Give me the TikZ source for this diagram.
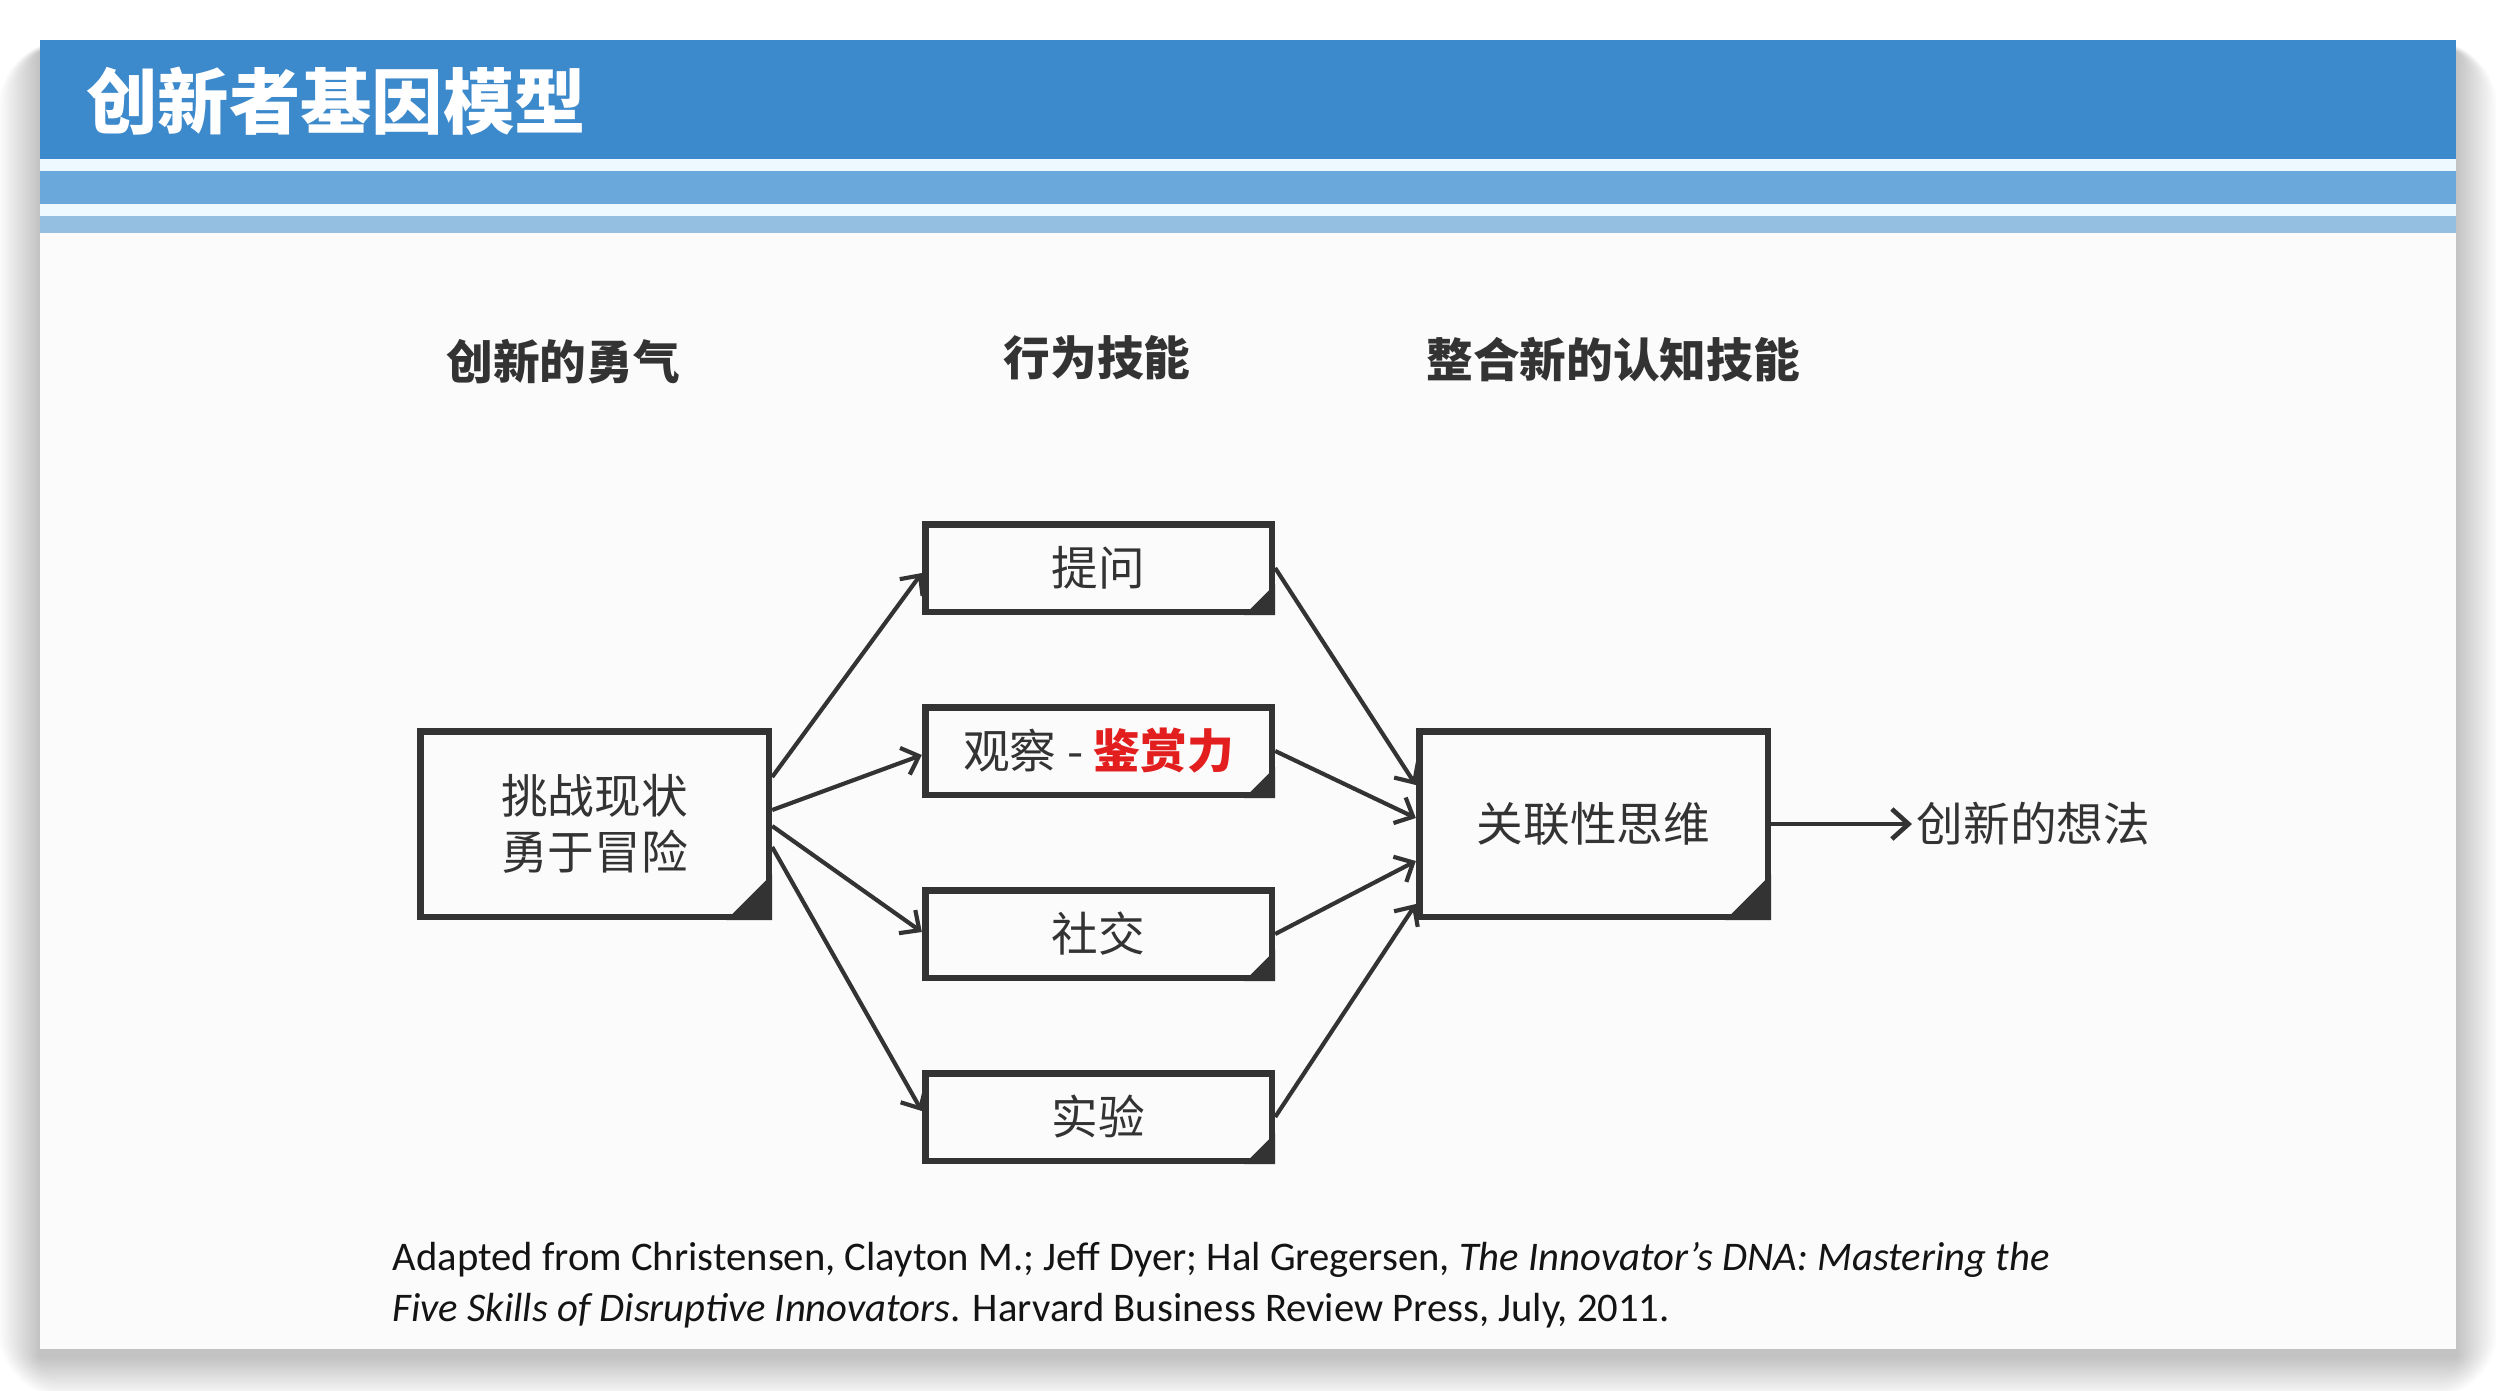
\documentclass[tikz,border=0pt]{standalone}
\usepackage{fontspec}
\setmainfont{Carlito}
\newfontfamily\cjk{Noto Sans CJK SC}
\usetikzlibrary{arrows.meta,calc}
\definecolor{ink}{RGB}{51,51,51}
\definecolor{hdr}{RGB}{60,137,204}
\definecolor{band}{RGB}{106,167,218}
\definecolor{bandlight}{RGB}{148,191,224}
\definecolor{gap}{RGB}{238,248,255}
\definecolor{paper}{RGB}{251,251,251}
\definecolor{accent}{RGB}{226,30,30}
\begin{document}
\begin{tikzpicture}[x=0.3pt,y=-0.3pt,
  box/.style={draw=ink,line width=2pt,fill=paper,text=ink,inner sep=0pt,
    font=\cjk\fontsize{14}{16.8}\selectfont},
  small/.style={box,minimum width=104pt,minimum height=26.3pt},
  big/.style={box,minimum width=104.6pt,minimum height=55.7pt,align=center},
  link/.style={draw=ink,line width=1.25pt,
    -{Straight Barb[length=4.5pt,width=8.5pt,line width=1.25pt]}},
  outlink/.style={draw=ink,line width=1.4pt,
    -{Straight Barb[length=5pt,width=9pt,line width=1.4pt]}},
  heading/.style={font=\cjk\bfseries\fontsize{14}{16}\selectfont,text=ink,inner sep=0pt},
  label/.style={font=\cjk\fontsize{14}{16}\selectfont,text=ink,inner sep=0pt},
  cite/.style={font=\fontsize{12.2}{14}\selectfont,text=black!92,inner sep=0pt,anchor=base west}]

% page and soft shadow behind the slide
\useasboundingbox (0,0) rectangle (2496,1390);
\fill[white] (0,0) rectangle (2496,1390);
\foreach \i in {1,...,30}
  \fill[black,opacity=0.006,rounded corners=\i*0.7pt]
    (40-\i*1.4,40-\i*0.4+12) rectangle (2456+\i*1.4,1349+\i*1.4+8);

% slide body and header bands
\fill[paper] (40,40) rectangle (2456,1349);
\fill[hdr] (40,40) rectangle (2456,159);
\fill[gap] (40,159) rectangle (2456,171);
\fill[band] (40,171) rectangle (2456,204);
\fill[gap] (40,204) rectangle (2456,216);
\fill[bandlight] (40,216) rectangle (2456,233);

\node[anchor=west,text=white,inner sep=0pt,
  font=\cjk\bfseries\fontsize{21.4}{24}\selectfont] (title) at (86,101) {创新者基因模型};

% column headings
\node[heading] (h1) at (563,362) {创新的勇气};
\node[heading] (h2) at (1097,358) {行为技能};
\node[heading] (h3) at (1613,360) {整合新的认知技能};

% boxes
\node[big] (lb) at (594.5,824) {挑战现状\\勇于冒险};
\node[small] (q) at (1098.5,568) {提问};
\node[small] (o) at (1098.5,751) {观察 - \textcolor{accent}{\bfseries 鉴赏力}};
\node[small] (s) at (1098.5,934) {社交};
\node[small] (e) at (1098.5,1117) {实验};
\node[big] (rb) at (1593.5,824) {关联性思维};
\node[label,anchor=west] (idea) at (1916,824) {创新的想法};

% dark corner marks
\foreach \n/\d in {lb/46,rb/46,q/31,o/31,s/31,e/31}
  \fill[ink] (\n.south east) -- ($(\n.south east)+(0,-\d)$) -- ($(\n.south east)+(-\d,0)$) -- cycle;

% connectors
\draw[link] ($(lb.east)+(0,-47)$) -- ($(q.west)+(0,5)$);
\draw[link] ($(lb.east)+(0,-14)$) -- ($(o.west)+(0,4)$);
\draw[link] ($(lb.east)+(0,2)$) -- ($(s.west)+(0,-2)$);
\draw[link] ($(lb.east)+(0,23)$) -- ($(e.west)+(0,-6)$);
\draw[link] (q.east) -- ($(rb.west)+(0,-39)$);
\draw[link] (o.east) -- ($(rb.west)+(0,-6)$);
\draw[link] (s.east) -- ($(rb.west)+(0,37)$);
\draw[link] (e.east) -- ($(rb.west)+(0,80)$);
\draw[outlink] (rb.east) -- ($(idea.west)+(-4,0)$);

% reference
\node[cite] (c1) at (392,1270) {Adapted from Christensen, Clayton M.; Jeff Dyer; Hal Gregersen, \textit{The Innovator's DNA: Mastering the}};
\node[cite] (c2) at (392,1321) {\textit{Five Skills of Disruptive Innovators}. Harvard Business Review Press, July, 2011.};
\end{tikzpicture}
\end{document}
